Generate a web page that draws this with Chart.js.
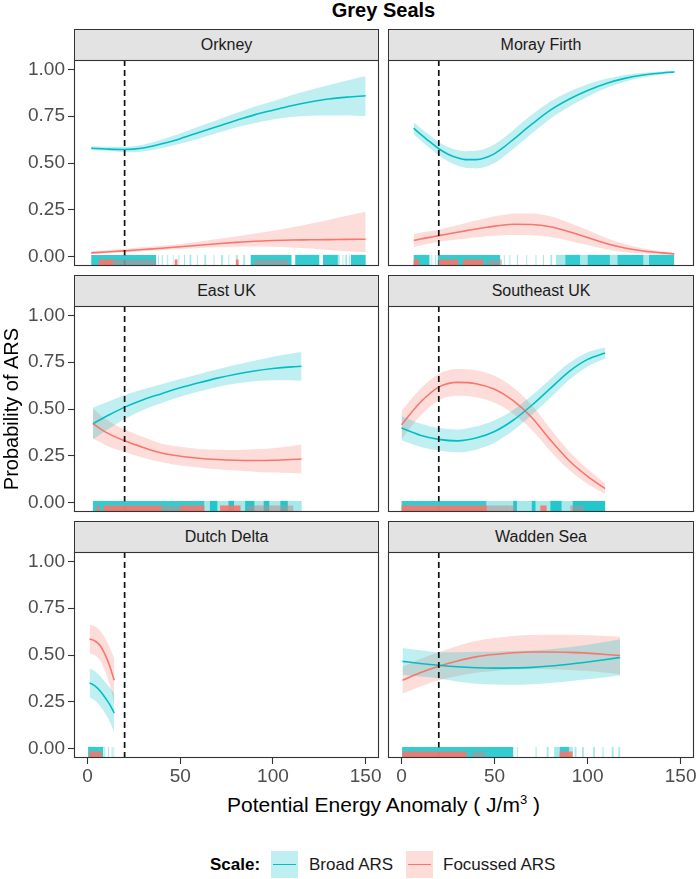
<!DOCTYPE html>
<html><head><meta charset="utf-8">
<script src="https://cdn.jsdelivr.net/npm/chart.js@4.4.1/dist/chart.umd.min.js"></script>
<style>
body{margin:0;background:#fff;width:696px;height:879px;position:relative;overflow:hidden;font-family:"Liberation Sans",Arial,sans-serif;}
canvas{position:absolute;}
.strip{position:absolute;box-sizing:border-box;border:1px solid #333;background:#e3e3e3;color:#1a1a1a;font-size:16px;text-align:center;height:32px;line-height:30px;}
.txt{position:absolute;white-space:nowrap;}
</style></head>
<body>
<div class="txt" style="left:0;width:767px;top:0;line-height:20px;text-align:center;font-weight:bold;font-size:20px;color:#000">Grey Seals</div>
<div class="txt" style="left:0;width:767px;top:792px;line-height:26px;text-align:center;font-size:21px;color:#000">Potential Energy Anomaly ( J/m<sup style="font-size:13px;vertical-align:8px;line-height:0">3</sup> )</div>
<div class="txt" style="left:210px;top:853px;line-height:24px;font-size:17px;font-weight:bold;color:#000">Scale:</div>
<div style="position:absolute;left:271px;top:851px;width:27px;height:27px;background:rgba(0,191,196,0.25)"><div style="position:absolute;left:2px;top:12.5px;width:23px;height:1.6px;background:#00BFC4"></div></div>
<div class="txt" style="left:309px;top:853px;line-height:24px;font-size:17px;color:#1a1a1a">Broad ARS</div>
<div style="position:absolute;left:406px;top:851px;width:27px;height:27px;background:rgba(248,118,109,0.25)"><div style="position:absolute;left:2px;top:12.5px;width:23px;height:1.6px;background:#F8766D"></div></div>
<div class="txt" style="left:443px;top:853px;line-height:24px;font-size:17px;color:#1a1a1a">Focussed ARS</div>
<script>
// ---- axis ticks ----
const xTicks = [0, 50, 100, 150];
const yTicks = [0, 0.25, 0.5, 0.75, 1.0];
const thresholdX = [20];

// ---- Orkney ----
const orkneyX     = [2,10,20,30,40,50,60,70,80,90,100,110,120,130,140,150];
const orkneyBroad = [0.579,0.575,0.572,0.58,0.603,0.63,0.663,0.695,0.727,0.757,0.782,0.806,0.826,0.842,0.852,0.859];
const orkneyBroadLo = [0.568,0.565,0.558,0.562,0.58,0.603,0.63,0.66,0.69,0.712,0.732,0.745,0.752,0.754,0.753,0.75];
const orkneyBroadHi = [0.59,0.587,0.587,0.598,0.625,0.657,0.695,0.73,0.765,0.8,0.83,0.862,0.89,0.915,0.94,0.965];
const orkneyFoc   = [0.02,0.025,0.031,0.038,0.045,0.053,0.061,0.069,0.076,0.082,0.086,0.089,0.09,0.091,0.092,0.093];
const orkneyFocLo = [0.014,0.018,0.023,0.029,0.035,0.041,0.046,0.05,0.053,0.054,0.053,0.049,0.043,0.036,0.029,0.023];
const orkneyFocHi = [0.029,0.034,0.042,0.05,0.058,0.068,0.08,0.094,0.108,0.123,0.138,0.155,0.175,0.196,0.218,0.24];
const orkneyRugBroad  = [[2,37],[88,110],[112,125],[127,135],[142,150]];
const orkneyRugBroadS = [[38,38.5],[40,40.6],[43,43.5],[46,46.4],[49,49.5],[52,52.6],[55,56],[59,59.5],[63,64],[68,68.5],[72,73],[76,76.5],[80,81],[84,85],[135,136],[137.5,138],[139,140],[141,141.5]];
const orkneyRugFoc    = [[6,14],[47,48.5],[80,81.5]];
const orkneyRugFocS   = [[14,37],[90,108]];

// ---- Moray Firth ----
const morayX     = [6.5,10,15,20,25,30,35,40,45,50,55,60,70,80,90,100,110,120,130,140,146.7];
const morayBroad = [0.686,0.655,0.615,0.576,0.547,0.528,0.518,0.518,0.528,0.55,0.585,0.625,0.707,0.782,0.84,0.887,0.925,0.952,0.97,0.981,0.986];
const morayBroadLo = [0.655,0.623,0.581,0.541,0.509,0.486,0.473,0.471,0.48,0.5,0.535,0.575,0.657,0.736,0.8,0.854,0.9,0.934,0.958,0.973,0.98];
const morayBroadHi = [0.717,0.687,0.649,0.611,0.585,0.57,0.563,0.565,0.576,0.6,0.635,0.675,0.757,0.828,0.88,0.92,0.95,0.97,0.982,0.989,0.992];
const morayFoc   = [0.086,0.094,0.103,0.112,0.121,0.13,0.139,0.148,0.156,0.163,0.169,0.173,0.172,0.16,0.133,0.102,0.07,0.046,0.03,0.02,0.015];
const morayFocLo = [0.051,0.06,0.07,0.08,0.086,0.092,0.097,0.103,0.108,0.111,0.114,0.115,0.114,0.105,0.085,0.062,0.04,0.024,0.016,0.011,0.008];
const morayFocHi = [0.121,0.128,0.136,0.144,0.156,0.168,0.181,0.193,0.204,0.215,0.224,0.231,0.23,0.215,0.181,0.142,0.1,0.068,0.044,0.029,0.022];
const morayRugBroad  = [[6.5,15],[19.5,53],[88,96],[100,112],[116,130],[133,146.5]];
const morayRugBroadS = [[16,16.5],[18,18.6],[55,55.5],[58,58.5],[62,62.6],[67,67.5],[72,72.5],[76,76.6],[80,81],[83,88],[96,100],[112,116],[130,133]];
const morayRugFoc    = [[6.5,9.5],[20,30.5],[33,44]];
const morayRugFocS   = [[46,54]];

// ---- East UK ----
const eastX     = [2.9,10,20,30,40,50,60,70,80,90,100,110,115.4];
const eastBroad = [0.422,0.46,0.51,0.55,0.582,0.613,0.64,0.665,0.686,0.703,0.716,0.725,0.728];
const eastBroadLo = [0.337,0.385,0.447,0.495,0.532,0.566,0.594,0.618,0.636,0.648,0.653,0.653,0.651];
const eastBroadHi = [0.507,0.535,0.573,0.605,0.632,0.66,0.686,0.712,0.736,0.758,0.779,0.797,0.805];
const eastFoc   = [0.422,0.375,0.33,0.295,0.265,0.248,0.237,0.23,0.226,0.225,0.226,0.23,0.233];
const eastFocLo = [0.342,0.305,0.27,0.24,0.215,0.198,0.187,0.178,0.171,0.165,0.161,0.158,0.156];
const eastFocHi = [0.502,0.445,0.39,0.35,0.315,0.298,0.287,0.282,0.281,0.285,0.291,0.302,0.31];
const eastRugBroad  = [[2.9,63],[66,70],[76,79],[85,90],[95,98],[104,108]];
const eastRugBroadS = [[63,115.5]];
const eastRugFoc    = [[5,6.5],[8.5,40],[50,63],[71.5,82.5]];
const eastRugFocS   = [[40,50],[86,111]];

// ---- Southeast UK ----
const seX     = [0,10,20,30,40,50,60,70,80,90,100,109.4];
const seBroad = [0.398,0.36,0.338,0.33,0.345,0.38,0.44,0.52,0.61,0.7,0.765,0.799];
const seBroadLo = [0.333,0.298,0.278,0.269,0.283,0.32,0.385,0.468,0.56,0.655,0.727,0.769];
const seBroadHi = [0.463,0.422,0.398,0.391,0.407,0.44,0.495,0.572,0.66,0.745,0.803,0.829];
const seFoc   = [0.416,0.535,0.617,0.642,0.635,0.605,0.545,0.455,0.335,0.225,0.14,0.075];
const seFocLo = [0.341,0.463,0.547,0.571,0.563,0.533,0.475,0.389,0.275,0.175,0.1,0.047];
const seFocHi = [0.491,0.607,0.687,0.713,0.707,0.677,0.615,0.521,0.395,0.275,0.18,0.103];
const seRugBroad  = [[0,45.6],[60,62],[70,72],[80,86],[92,109.4]];
const seRugBroadS = [[45.6,109.4]];
const seRugFoc    = [[0,46],[74.6,78]];
const seRugFocS   = [[46,58],[58,61],[90.7,98]];

// ---- Dutch Delta ----
const dutchX     = [1.1,4,7,10,12,14.4];
const dutchBroad = [0.351,0.335,0.305,0.265,0.235,0.19];
const dutchBroadLo = [0.274,0.257,0.225,0.18,0.145,0.085];
const dutchBroadHi = [0.428,0.413,0.385,0.35,0.325,0.295];
const dutchFoc   = [0.585,0.575,0.548,0.49,0.44,0.365];
const dutchFocLo = [0.508,0.497,0.468,0.4,0.34,0.25];
const dutchFocHi = [0.662,0.653,0.628,0.58,0.54,0.48];
const dutchRugBroad  = [[0.3,8.5]];
const dutchRugBroadS = [[9,9.6],[11,11.6],[13,13.5],[14,14.4]];
const dutchRugFoc    = [[1,7.5]];
const dutchRugFocS   = [];

// ---- Wadden Sea ----
const waddenX     = [0.5,10,20,30,40,50,60,70,80,90,100,110,117.5];
const waddenBroad = [0.466,0.455,0.445,0.437,0.432,0.43,0.431,0.434,0.441,0.451,0.463,0.476,0.487];
const waddenBroadLo = [0.394,0.385,0.375,0.359,0.347,0.342,0.341,0.344,0.351,0.36,0.371,0.381,0.39];
const waddenBroadHi = [0.538,0.525,0.515,0.515,0.517,0.518,0.521,0.524,0.531,0.542,0.555,0.571,0.584];
const waddenFoc   = [0.365,0.405,0.44,0.468,0.49,0.503,0.512,0.516,0.516,0.514,0.51,0.503,0.497];
const waddenFocLo = [0.293,0.332,0.365,0.388,0.405,0.415,0.422,0.425,0.424,0.42,0.415,0.405,0.397];
const waddenFocHi = [0.437,0.478,0.515,0.548,0.575,0.591,0.602,0.607,0.608,0.608,0.605,0.601,0.597];
const waddenRugBroad  = [[0,60],[85,90]];
const waddenRugBroadS = [[62,62.5],[72,72.6],[78,79],[82,85],[90,92],[93,94],[97,98],[103,104],[108,108.6],[113,114],[116.5,117.5]];
const waddenRugFoc    = [[0.5,35],[85,92]];
const waddenRugFocS   = [[38,45]];

const panelNames = ['Orkney','Moray Firth','East UK','Southeast UK','Dutch Delta','Wadden Sea'];

// ---- layout / style ----
const FONT = '"Liberation Sans", Arial, sans-serif';
const C_BROAD = '#00BFC4', C_FOC = '#F8766D';
const COLS = [{canvasLeft:0, width:381, padL:0, padR:2, stripLeft:74, stripW:305},
              {canvasLeft:386, width:310, padL:2, padR:2, stripLeft:388, stripW:306}];
const ROWS = [{canvasTop:58, stripTop:29}, {canvasTop:304, stripTop:275}, {canvasTop:550, stripTop:521}];
const AREA_H = 206, XAXIS_H = 30, YAXIS_W = 74;

Chart.defaults.font.family = FONT;

const boxPlugin = {
  id:'panelBox',
  afterDraw(chart){
    const a = chart.chartArea, ctx = chart.ctx;
    ctx.save();
    ctx.strokeStyle = '#333333'; ctx.lineWidth = 1.1;
    const l = Math.round(a.left), t = Math.round(a.top), r = Math.round(a.right), b = Math.round(a.bottom);
    ctx.strokeRect(l+0.5, t+0.5, r-l-1, b-t-1);
    ctx.restore();
  }
};

function pts(xs, ys){ return xs.map((x,i)=>({x:x, y:ys[i]})); }
function rug(ranges, y){ return ranges.map(r=>({x:r, y:y})); }

function makePanel(idx, d){
  const col = idx % 2, row = Math.floor(idx/2);
  const C = COLS[col], R = ROWS[row];
  const showX = row === 2, showY = col === 0;
  const strip = document.createElement('div');
  strip.className = 'strip';
  strip.style.left = C.stripLeft+'px'; strip.style.width = C.stripW+'px'; strip.style.top = R.stripTop+'px';
  strip.textContent = panelNames[idx];
  document.body.appendChild(strip);

  const cv = document.createElement('canvas');
  const h = 2 + AREA_H + (showX ? XAXIS_H : 2);
  cv.width = C.width; cv.height = h;
  cv.style.left = C.canvasLeft+'px'; cv.style.top = R.canvasTop+'px';
  cv.style.width = C.width+'px'; cv.style.height = h+'px';
  document.body.appendChild(cv);

  const line = {type:'line', pointRadius:0, cubicInterpolationMode:'monotone', borderWidth:0};
  const bar = {type:'bar', indexAxis:'y', grouped:false, borderWidth:0, inflateAmount:0};
  const datasets = [
    Object.assign({}, line, {data:pts(d.x,d.bHi), fill:'+1', backgroundColor:'rgba(0,191,196,0.25)', order:3}),
    Object.assign({}, line, {data:pts(d.x,d.bLo), fill:false, order:3}),
    Object.assign({}, line, {data:pts(d.x,d.fHi), fill:'+1', backgroundColor:'rgba(248,118,109,0.25)', order:3}),
    Object.assign({}, line, {data:pts(d.x,d.fLo), fill:false, order:3}),
    Object.assign({}, line, {data:pts(d.x,d.b), borderColor:C_BROAD, borderWidth:1.6, fill:false, order:2}),
    Object.assign({}, line, {data:pts(d.x,d.f), borderColor:C_FOC, borderWidth:1.6, fill:false, order:2}),
    {type:'line', pointRadius:0, tension:0, cubicInterpolationMode:'default', data:[{x:thresholdX[0], y:-0.05},{x:thresholdX[0], y:1.05}], borderColor:'#111', borderWidth:1.7, borderDash:[6,4], fill:false, order:1},
    Object.assign({}, bar, {data:rug(d.rbS,-0.02), backgroundColor:'rgba(0,191,196,0.35)', barThickness:11, order:0.6}),
    Object.assign({}, bar, {data:rug(d.rb,-0.02), backgroundColor:'rgba(0,191,196,0.8)', barThickness:11, order:0.5}),
    Object.assign({}, bar, {data:rug(d.rfS,-0.0325), backgroundColor:'rgba(190,140,140,0.55)', barThickness:6.5, order:0.45}),
    Object.assign({}, bar, {data:rug(d.rf,-0.0325), backgroundColor:'rgba(248,118,109,0.9)', barThickness:6.5, order:0.4})
  ];

  new Chart(cv, {
    type:'line',
    data:{datasets:datasets},
    plugins:[boxPlugin],
    options:{
      responsive:false, animation:false, devicePixelRatio:1,
      layout:{padding:{left:C.padL, right:C.padR, top:2, bottom: showX?0:2}},
      plugins:{legend:{display:false}, tooltip:{enabled:false}},
      scales:{
        x:{type:'linear', min:-7.3, max:157.2, display:showX, offset:false,
           afterBuildTicks:s=>{ s.ticks = xTicks.map(v=>({value:v})); },
           afterFit:s=>{ if (showX) s.height = XAXIS_H; s.paddingLeft = 0; s.paddingRight = 0; },
           grid:{offset:false, drawOnChartArea:false, drawTicks:true, tickLength:6, tickColor:'#333333', tickWidth:1.1},
           border:{display:false},
           ticks:{color:'#4d4d4d', font:{size:19}, padding:1, maxRotation:0, autoSkip:false, callback:v=>String(v)}},
        y:{type:'linear', min:-0.05, max:1.05, display:showY, offset:false,
           afterBuildTicks:s=>{ s.ticks = yTicks.map(v=>({value:v})); },
           afterFit:s=>{ if (showY) s.width = YAXIS_W; s.paddingTop = 0; s.paddingBottom = 0; },
           grid:{offset:false, drawOnChartArea:false, drawTicks:true, tickLength:6, tickColor:'#333333', tickWidth:1.1},
           border:{display:false},
           title:{display: idx===2, text:'Probability of ARS', color:'#000', font:{size:20}, padding:{top:0,bottom:0}},
           ticks:{color:'#4d4d4d', font:{size:19}, padding:3, autoSkip:false, callback:v=>Number(v).toFixed(2)}}
      }
    }
  });
}

const panelData = [
  {x:orkneyX, b:orkneyBroad, bLo:orkneyBroadLo, bHi:orkneyBroadHi, f:orkneyFoc, fLo:orkneyFocLo, fHi:orkneyFocHi, rb:orkneyRugBroad, rbS:orkneyRugBroadS, rf:orkneyRugFoc, rfS:orkneyRugFocS},
  {x:morayX, b:morayBroad, bLo:morayBroadLo, bHi:morayBroadHi, f:morayFoc, fLo:morayFocLo, fHi:morayFocHi, rb:morayRugBroad, rbS:morayRugBroadS, rf:morayRugFoc, rfS:morayRugFocS},
  {x:eastX, b:eastBroad, bLo:eastBroadLo, bHi:eastBroadHi, f:eastFoc, fLo:eastFocLo, fHi:eastFocHi, rb:eastRugBroad, rbS:eastRugBroadS, rf:eastRugFoc, rfS:eastRugFocS},
  {x:seX, b:seBroad, bLo:seBroadLo, bHi:seBroadHi, f:seFoc, fLo:seFocLo, fHi:seFocHi, rb:seRugBroad, rbS:seRugBroadS, rf:seRugFoc, rfS:seRugFocS},
  {x:dutchX, b:dutchBroad, bLo:dutchBroadLo, bHi:dutchBroadHi, f:dutchFoc, fLo:dutchFocLo, fHi:dutchFocHi, rb:dutchRugBroad, rbS:dutchRugBroadS, rf:dutchRugFoc, rfS:dutchRugFocS},
  {x:waddenX, b:waddenBroad, bLo:waddenBroadLo, bHi:waddenBroadHi, f:waddenFoc, fLo:waddenFocLo, fHi:waddenFocHi, rb:waddenRugBroad, rbS:waddenRugBroadS, rf:waddenRugFoc, rfS:waddenRugFocS}
];
panelData.forEach((d,i)=>makePanel(i,d));
</script>
</body></html>
